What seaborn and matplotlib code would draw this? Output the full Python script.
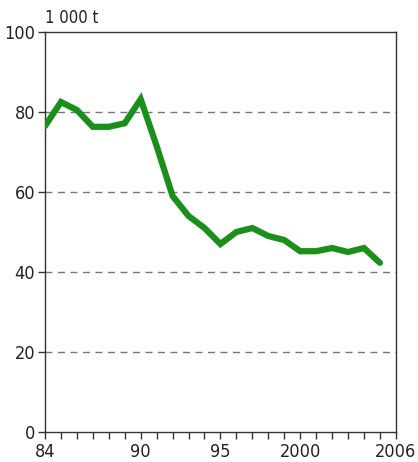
import matplotlib
matplotlib.use("Agg")
import matplotlib.pyplot as plt
import seaborn as sns
import pandas as pd

# ── Data ──────────────────────────────────────────────────────────────────────
years = list(range(1984, 2006))
values = [76.5, 82.5, 80.5, 76.3, 76.3, 77.2, 83.2, 71.5, 59, 54, 51, 47,
          50, 51, 49, 48, 45.2, 45.2, 46, 45, 46, 42.3]
xtick_pos = [1984, 1990, 1995, 2000, 2006]
xtick_labels = ["84", "90", "95", "2000", "2006"]
yticks = [0, 20, 40, 60, 80, 100]
unit_label = "1 000 t"

df = pd.DataFrame({"year": years, "value": values})

sns.set_style("white")
plt.rcParams["font.family"] = ["DejaVu Sans"]
plt.rcParams["font.stretch"] = "condensed"

fig = plt.figure(figsize=(4.18, 4.62), dpi=100)
ax = fig.add_axes([0.1077, 0.0649, 0.947 - 0.1077, 0.9307 - 0.0649])

for y in yticks[1:-1]:
    ax.axhline(y, color="#777777", lw=1.0, ls=(0, (5, 4)), zorder=1)

sns.lineplot(data=df, x="year", y="value", ax=ax, color="#1a8f1a",
             lw=4.5, solid_joinstyle="miter", zorder=3)

ax.set_xlim(1984, 2006)
ax.set_ylim(0, 100)
ax.set_xticks(xtick_pos)
ax.set_xticklabels(xtick_labels)
ax.set_xticks(years + [2006], minor=True)
ax.set_yticks(yticks)
ax.set_xlabel("")
ax.set_ylabel("")

ax.tick_params(axis="x", which="both", bottom=True, direction="out", length=5,
               width=1, color="#333333", labelsize=13, labelcolor="#222222", pad=3)
ax.tick_params(axis="y", left=True, direction="out", length=5, width=1,
               color="#333333", labelsize=13, labelcolor="#222222", pad=2)

for s in ax.spines.values():
    s.set_visible(True)
    s.set_color("#333333")
    s.set_linewidth(1.0)

ax.text(0.0, 1.012, unit_label, transform=ax.transAxes, fontsize=12,
        color="#222222", ha="left", va="bottom")

fig.savefig("out.png", dpi=100)
